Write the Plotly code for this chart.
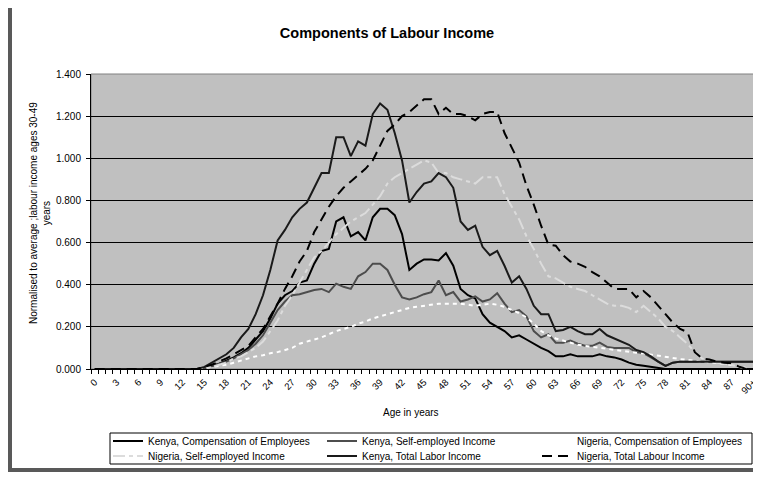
import plotly.graph_objects as go

ages = list(range(0, 91))
age_labels = [str(a) if a < 90 else "90+" for a in range(0, 91, 3)]
age_label_pos = list(range(0, 91, 3))

z15 = [0.0] * 15

kenya_coe = z15 + [0.005, 0.015, 0.025, 0.04, 0.055, 0.075, 0.10, 0.14, 0.18, 0.24,
                   0.31, 0.35, 0.37, 0.41, 0.42, 0.50, 0.56, 0.57, 0.70, 0.72,
                   0.63, 0.65, 0.61, 0.72, 0.76, 0.76, 0.73, 0.64, 0.47, 0.50,
                   0.52, 0.52, 0.515, 0.55, 0.49, 0.38, 0.35, 0.335, 0.26, 0.22,
                   0.20, 0.18, 0.15, 0.16, 0.14, 0.12, 0.10, 0.085, 0.06, 0.06,
                   0.07, 0.06, 0.06, 0.06, 0.07, 0.06, 0.055, 0.045, 0.03, 0.02,
                   0.015, 0.01, 0.005, 0.0, 0.0, 0.0, 0.0, 0.0, 0.0, 0.0,
                   0.0, 0.0, 0.0, 0.0, 0.0, 0.0]

kenya_self = z15 + [0.005, 0.015, 0.025, 0.035, 0.05, 0.07, 0.09, 0.12, 0.16, 0.22,
                    0.28, 0.32, 0.35, 0.355, 0.365, 0.375, 0.38, 0.365, 0.405, 0.39,
                    0.38, 0.44, 0.46, 0.50, 0.50, 0.47, 0.40, 0.34, 0.33, 0.34,
                    0.355, 0.365, 0.42, 0.35, 0.365, 0.32, 0.33, 0.345, 0.32, 0.33,
                    0.36, 0.31, 0.27, 0.28, 0.25, 0.18, 0.15, 0.165, 0.125, 0.125,
                    0.135, 0.12, 0.11, 0.11, 0.125, 0.105, 0.10, 0.10, 0.10, 0.08,
                    0.075, 0.055, 0.035, 0.015, 0.03, 0.035, 0.035, 0.035, 0.035, 0.035,
                    0.035, 0.035, 0.035, 0.035, 0.035, 0.035]

nigeria_coe = z15 + [0.005, 0.01, 0.015, 0.02, 0.03, 0.04, 0.05, 0.06, 0.065, 0.075,
                     0.08, 0.09, 0.10, 0.12, 0.13, 0.14, 0.15, 0.165, 0.18, 0.19,
                     0.20, 0.215, 0.225, 0.24, 0.25, 0.26, 0.27, 0.28, 0.29, 0.295,
                     0.30, 0.305, 0.31, 0.31, 0.31, 0.31, 0.305, 0.30, 0.305, 0.31,
                     0.305, 0.295, 0.28, 0.265, 0.245, 0.215, 0.18, 0.16, 0.145, 0.135,
                     0.125, 0.115, 0.11, 0.105, 0.10, 0.095, 0.09, 0.085, 0.08, 0.077,
                     0.074, 0.068, 0.063, 0.058, 0.052, 0.047, 0.043, 0.038, 0.035, 0.032,
                     0.028, 0.025, 0.02, 0.012, 0.005]

nigeria_self = z15 + [0.005, 0.01, 0.02, 0.03, 0.05, 0.06, 0.08, 0.10, 0.13, 0.18,
                      0.23, 0.30, 0.35, 0.41, 0.47, 0.53, 0.56, 0.60, 0.64, 0.67,
                      0.70, 0.72, 0.74, 0.78, 0.82, 0.88, 0.91, 0.93, 0.95, 0.97,
                      0.99, 0.98, 0.93, 0.93, 0.91, 0.90, 0.89, 0.88, 0.91, 0.91,
                      0.91, 0.83, 0.77, 0.71, 0.63, 0.57, 0.50, 0.44, 0.43, 0.41,
                      0.39, 0.38, 0.37, 0.35, 0.33, 0.31, 0.30, 0.30, 0.29, 0.27,
                      0.30, 0.27, 0.24, 0.20, 0.18, 0.15, 0.12, 0.08, 0.05, 0.04,
                      0.03, 0.025, 0.02, 0.01, 0.0]

kenya_total = z15 + [0.01, 0.03, 0.05, 0.07, 0.10, 0.15, 0.19, 0.26, 0.35, 0.47,
                     0.61, 0.66, 0.72, 0.76, 0.79, 0.86, 0.93, 0.93, 1.10, 1.10,
                     1.01, 1.08, 1.06, 1.21, 1.26, 1.23, 1.12, 0.99, 0.79, 0.84,
                     0.88, 0.89, 0.93, 0.91, 0.86, 0.70, 0.66, 0.68, 0.58, 0.54,
                     0.56, 0.49, 0.41, 0.44, 0.38, 0.30, 0.26, 0.26, 0.18, 0.185,
                     0.20, 0.18, 0.165, 0.165, 0.19, 0.16, 0.145, 0.13, 0.115, 0.09,
                     0.08, 0.06, 0.035, 0.015, 0.03, 0.035, 0.035, 0.035, 0.035, 0.035,
                     0.035, 0.035, 0.035, 0.035, 0.035, 0.035]

nigeria_total = z15 + [0.01, 0.02, 0.035, 0.05, 0.07, 0.09, 0.11, 0.15, 0.19, 0.25,
                       0.31, 0.38, 0.44, 0.51, 0.56, 0.65, 0.71, 0.77, 0.82, 0.86,
                       0.89, 0.92, 0.95, 0.99, 1.06, 1.13, 1.16, 1.20, 1.22, 1.25,
                       1.28, 1.28, 1.21, 1.24, 1.21, 1.21, 1.20, 1.18, 1.21, 1.22,
                       1.22, 1.12, 1.05, 0.98, 0.87, 0.78, 0.68, 0.59, 0.585, 0.54,
                       0.51, 0.50, 0.485, 0.46, 0.44, 0.41, 0.38, 0.38, 0.38, 0.34,
                       0.37, 0.34, 0.30, 0.26, 0.22, 0.19, 0.175, 0.08, 0.05, 0.045,
                       0.035, 0.03, 0.027, 0.012, 0.0]

series = [
    ("Kenya, Compensation of Employees", kenya_coe, "#000000", "solid", 2, "legend"),
    ("Kenya, Self-employed Income", kenya_self, "#4d4d4d", "solid", 2, "legend2"),
    ("Nigeria, Compensation of Employees", nigeria_coe, "#ffffff", "4px,4px", 2, "legend3"),
    ("Nigeria, Self-employed Income", nigeria_self, "#dcdcdc", "12px,4px,4px,4px", 2, "legend4"),
    ("Kenya, Total Labor Income", kenya_total, "#1a1a1a", "solid", 2, "legend5"),
    ("Nigeria, Total Labour Income", nigeria_total, "#000000", "10px,6px", 2, "legend6"),
]

FONT = "Liberation Sans, Arial, sans-serif"
# page pixel geometry (the page body adds an 8px offset to the figure)
OFF = 8
PAGE_W, PAGE_H = 761, 477
W, H = PAGE_W - OFF, PAGE_H - OFF
L, R, T, B = 91, 757, 74, 369   # plot area in page pixels


def px(xp):
    return (xp - L) / (R - L)


def py(yp):
    return (B - yp) / (B - T)


fig = go.Figure()
for name, vals, color, dash, width, leg in series:
    fig.add_trace(go.Scatter(
        x=ages, y=vals, mode="lines", name=name, legend=leg,
        line=dict(color=color, dash=dash, width=width),
    ))

cols = [108, 322, 537]
rows = [441, 456]
legend_pos = {
    "legend": (cols[0], rows[0]),
    "legend2": (cols[1], rows[0]),
    "legend3": (cols[2], rows[0]),
    "legend4": (cols[0], rows[1]),
    "legend5": (cols[1], rows[1]),
    "legend6": (cols[2], rows[1]),
}
legend_layout = {}
for k, (lx, ly) in legend_pos.items():
    legend_layout[k] = dict(
        x=px(lx), y=py(ly), xanchor="left", yanchor="middle",
        bgcolor="rgba(0,0,0,0)", borderwidth=0,
        font=dict(family=FONT, size=10, color="black"),
        itemwidth=30,
    )

fig.update_layout(
    width=W, height=H,
    margin=dict(l=L - OFF, r=W - (R - OFF), t=T - OFF, b=H - (B - OFF), autoexpand=False),
    paper_bgcolor="white",
    plot_bgcolor="#c0c0c0",
    showlegend=True,
    title=dict(text="<b>Components of Labour Income</b>", x=(387 - OFF) / W, xanchor="center",
               y=1 - (33 - OFF) / H, yanchor="middle",
               font=dict(family=FONT, size=14.5, color="black")),
    font=dict(family=FONT, color="black"),
    **legend_layout,
)

fig.update_xaxes(
    range=[-0.5, 90.5],
    tickmode="array", tickvals=age_label_pos, ticktext=age_labels,
    tickangle=-45, ticks="outside", ticklen=3, tickcolor="rgba(0,0,0,0)",
    minor=dict(tickmode="linear", tick0=-0.5, dtick=1, ticks="outside", ticklen=4,
               tickcolor="black", showgrid=False),
    tickfont=dict(family=FONT, size=9.5, color="black"),
    showline=True, linecolor="black", linewidth=1,
    showgrid=False, zeroline=False,
)
fig.update_yaxes(
    range=[0, 1.4], dtick=0.2, tickformat=".3f",
    ticks="outside", ticklen=4, tickcolor="black",
    tickfont=dict(family=FONT, size=10, color="black"),
    ticklabelstandoff=3,
    showline=True, linecolor="black", linewidth=1,
    showgrid=True, gridcolor="black", gridwidth=1, zeroline=False,
)

shapes = [
    dict(type="rect", xref="paper", yref="paper", x0=0, x1=1, y0=0, y1=1,
         line=dict(color="#808080", width=1), layer="below"),
    dict(type="rect", xref="paper", yref="paper", x0=px(110), x1=px(752),
         y0=py(464), y1=py(433), line=dict(color="black", width=1)),
    dict(type="line", xref="paper", yref="paper", x0=px(10), x1=px(10),
         y0=py(472), y1=py(8), line=dict(color="#595959", width=4)),
    dict(type="line", xref="paper", yref="paper", x0=px(8), x1=px(760),
         y0=py(470), y1=py(470), line=dict(color="#595959", width=4)),
    dict(type="line", xref="paper", yref="paper", x0=px(759), x1=px(759),
         y0=py(470), y1=py(8), line=dict(color="#808080", width=1)),
]
fig.update_layout(shapes=shapes)

fig.add_annotation(
    text="Normalised to average ;labour income ages 30-49<br>years",
    xref="paper", yref="paper", x=px(40), y=py(213),
    xanchor="center", yanchor="middle", textangle=-90, showarrow=False,
    font=dict(family=FONT, size=10, color="black"),
)
fig.add_annotation(
    text="Age in years", xref="paper", yref="paper", x=px(411), y=py(412),
    xanchor="center", yanchor="middle", showarrow=False,
    font=dict(family=FONT, size=10, color="black"),
)

fig.write_html("out.html")
